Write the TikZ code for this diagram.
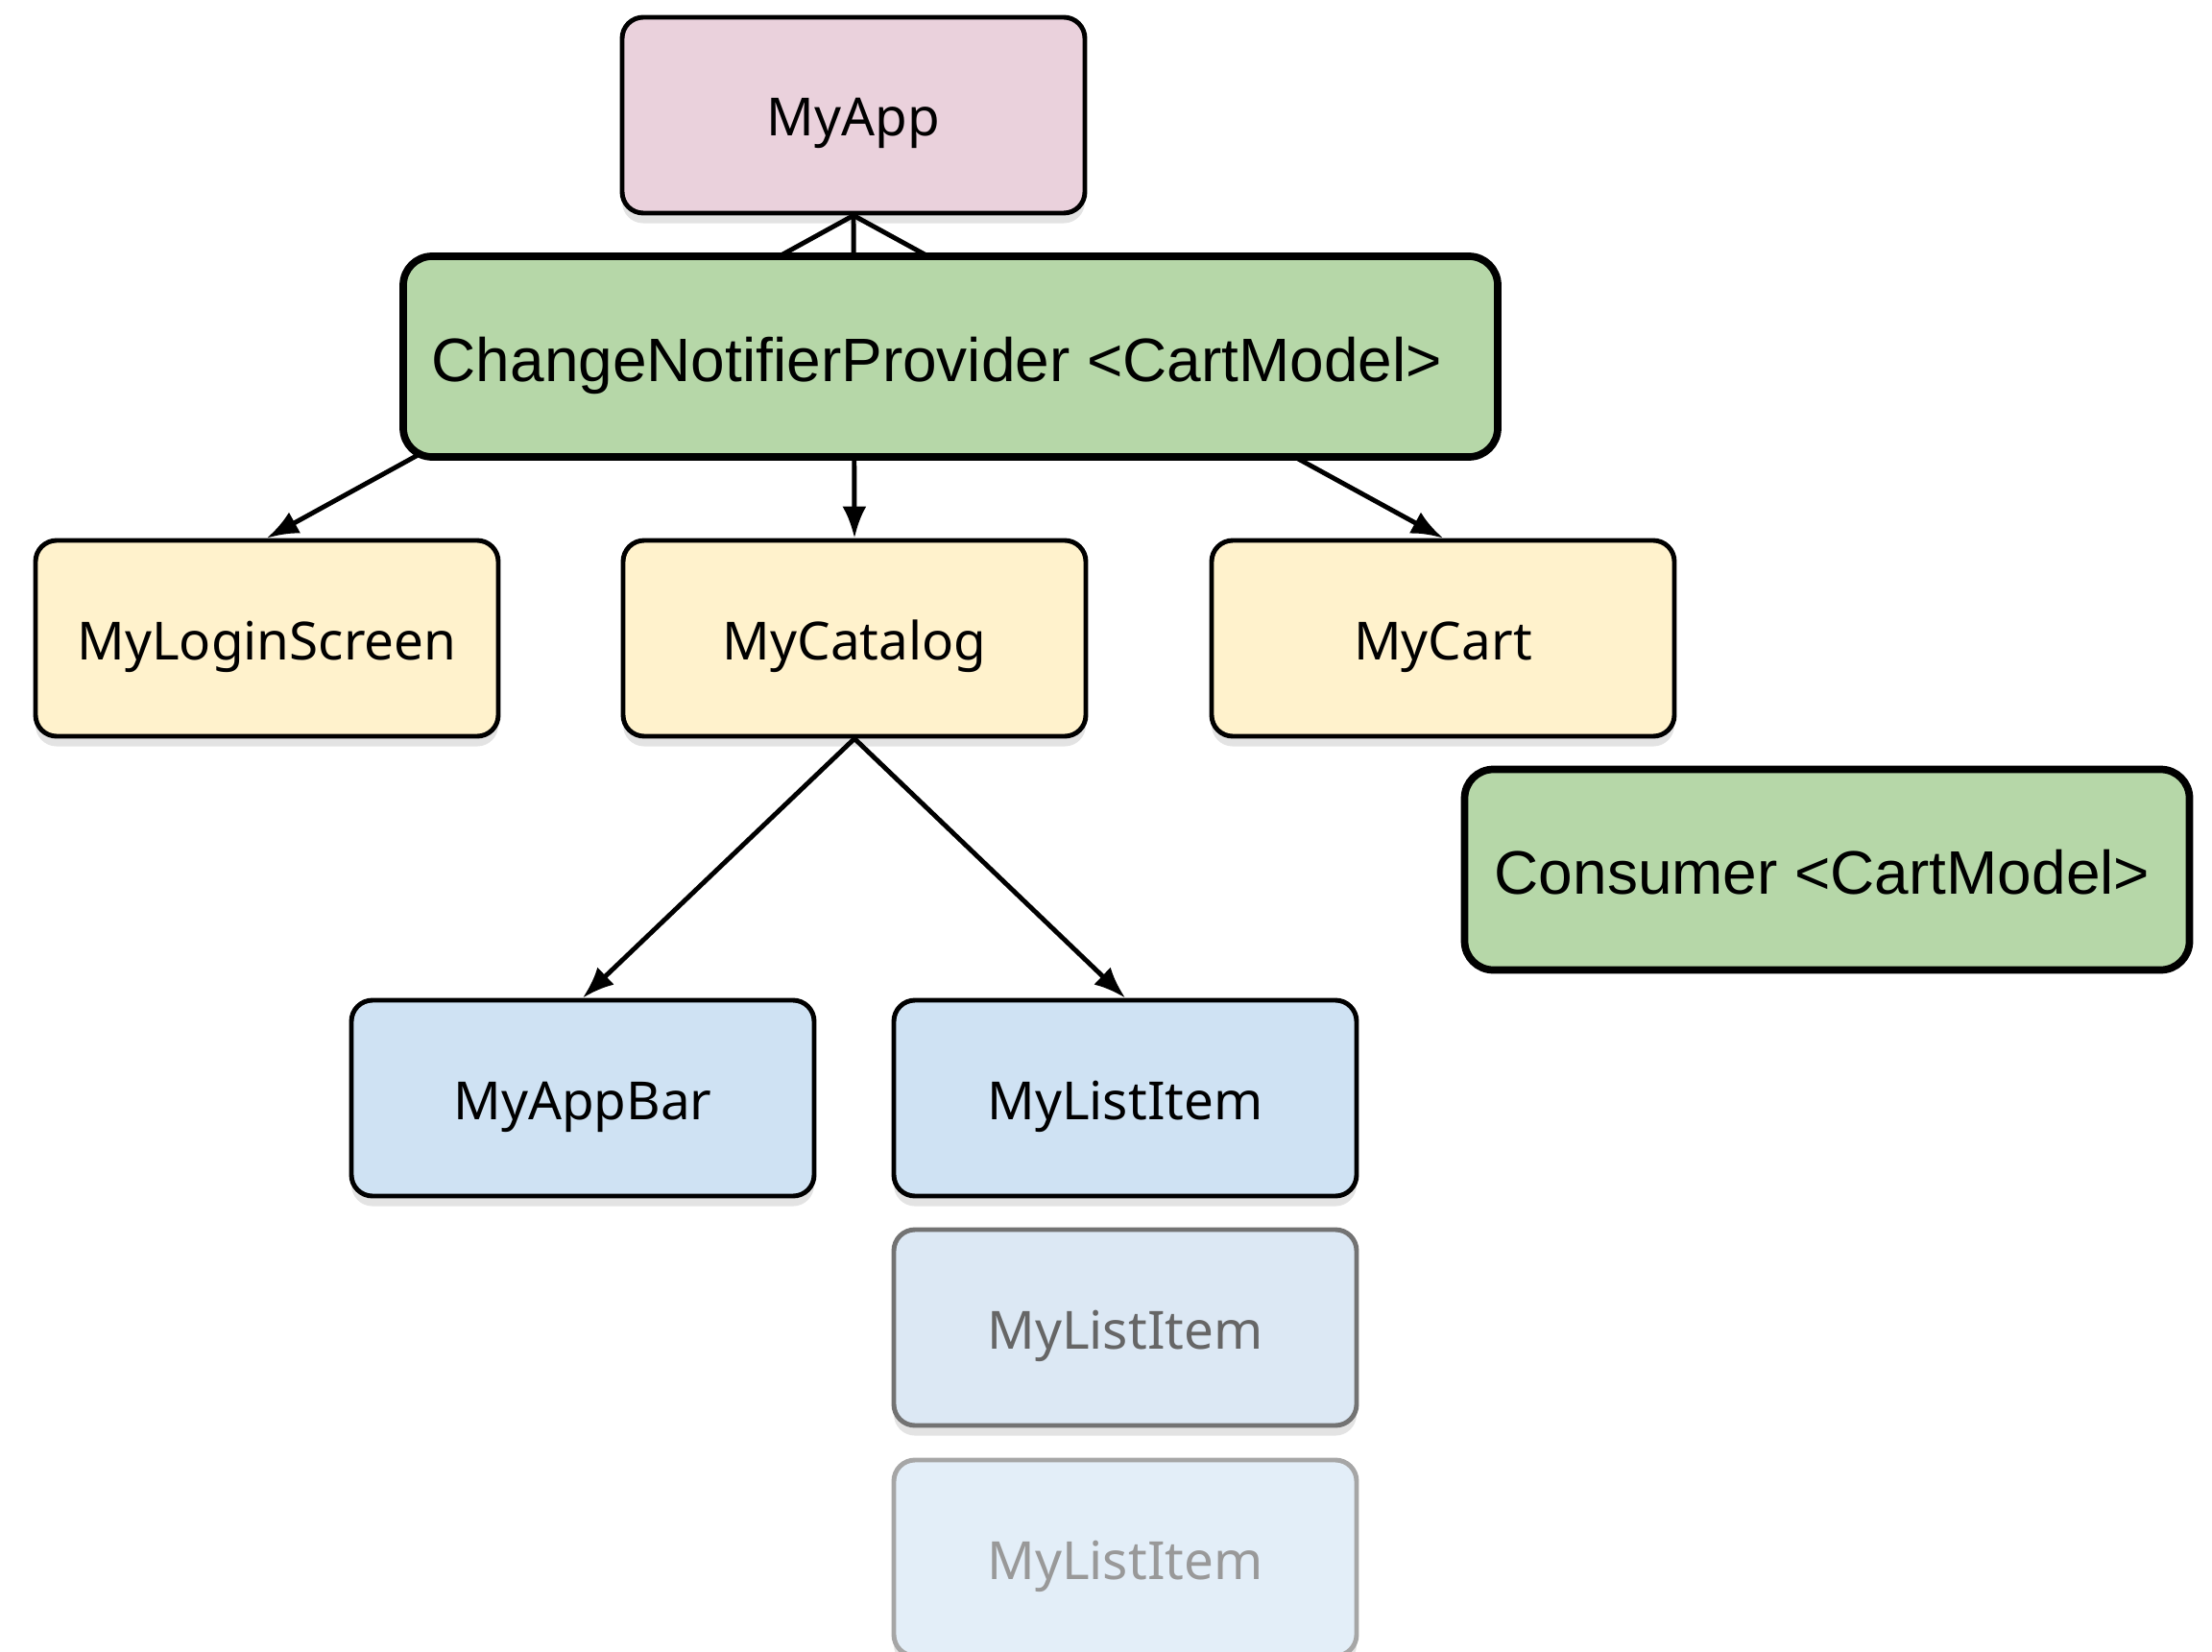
\documentclass[tikz,border=0pt]{standalone}
\usepackage{fontspec}
\setmainfont{Noto Sans}
\newfontfamily\arialfont{Liberation Sans}
\usetikzlibrary{arrows.meta,positioning,shadows}
\definecolor{apppink}{HTML}{EAD1DC}
\definecolor{provgreen}{HTML}{B6D7A8}
\definecolor{screenyellow}{HTML}{FFF2CC}
\definecolor{itemblue}{HTML}{CFE2F3}
\definecolor{itemblueb}{HTML}{DCE8F4}
\definecolor{itembluec}{HTML}{E3EEF8}

\begin{document}
\begin{tikzpicture}[
    widget/.style={draw=black, line width=1.4pt, rounded corners=2.2mm,
      minimum width=4.82cm, minimum height=2.04cm,
      text height=0.57cm, text depth=0.13cm,
      font=\fontsize{15.6}{18}\selectfont,
      drop shadow={shadow xshift=0pt, shadow yshift=-3pt, opacity=0.22}},
    provider/.style={draw=black, line width=2.2pt, rounded corners=3mm,
      fill=provgreen, minimum height=2.09cm,
      text height=0.65cm, text depth=0.135cm,
      font=\arialfont\fontsize{18.2}{20}\selectfont},
    link/.style={->, >={Latex[length=3.3mm,width=2.5mm]}, line width=1.4pt}
  ]
    \useasboundingbox (0,0) rectangle (23.04,-17.21);

    % app and its screens
    \node[widget, fill=apppink] (myapp) at (8.89,-1.20) {MyApp};
    \node[widget, fill=screenyellow] (login) at (2.78,-6.65) {MyLoginScreen};
    \node[widget, fill=screenyellow] (catalog) at (8.90,-6.65) {MyCatalog};
    \node[widget, fill=screenyellow] (cart) at (15.03,-6.65) {MyCart};

    \foreach \from in {myapp}
    \foreach \to in {login,catalog,cart}
    \draw[link] (\from.south) -- (\to.north);

    % catalog children
    \node[widget, fill=itemblue] (appbar) at (6.07,-11.44) {MyAppBar};
    \node[widget, fill=itemblue] (item1) at (11.72,-11.44) {MyListItem};
    \node[widget, fill=itemblueb, draw=black!55, text=black!60] (item2) at (11.72,-13.83) {MyListItem};
    \node[widget, fill=itembluec, draw=black!35, text=black!40] (item3) at (11.72,-16.23) {MyListItem};

    \foreach \from in {catalog}
    \foreach \to in {appbar,item1}
    \draw[link] (\from.south) -- (\to.north);

    % provider and consumer
    \node[provider, minimum width=11.40cm] (provider) at (9.90,-3.715) {ChangeNotifierProvider <CartModel>\hspace{0.28cm}\mbox{}};
    \node[provider, minimum width=7.55cm] (consumer) at (19.03,-9.06) {Consumer <CartModel>\hspace{0.1cm}\mbox{}};
  \end{tikzpicture}
\end{document}
